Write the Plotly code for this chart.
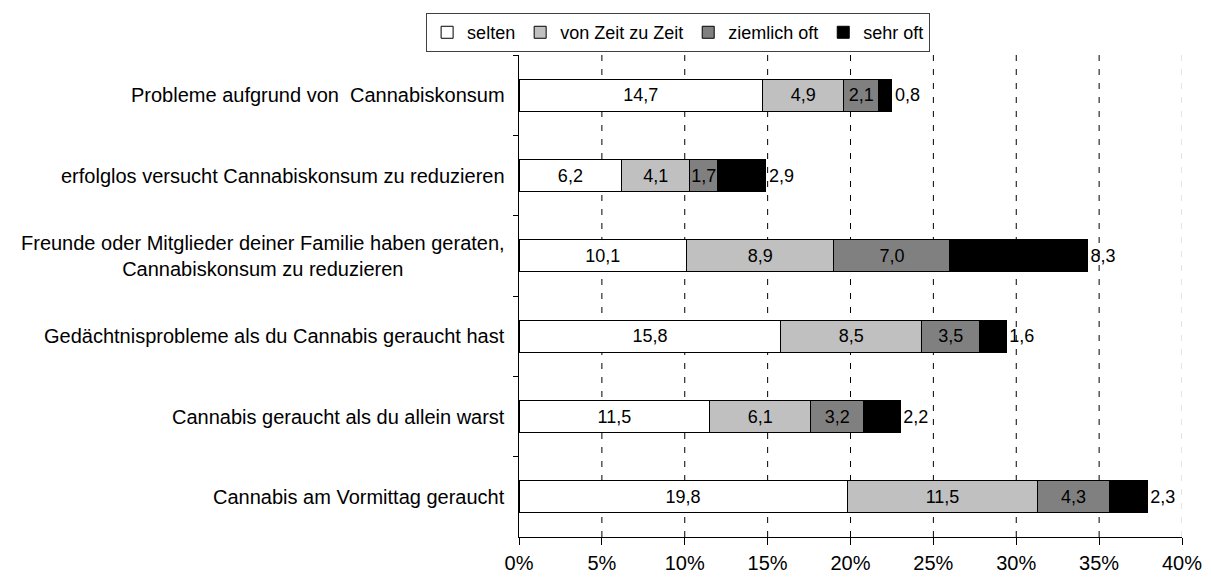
import plotly.graph_objects as go

# Survey items (top to bottom)
categories = [
    "Probleme aufgrund von  Cannabiskonsum",
    "erfolglos versucht Cannabiskonsum zu reduzieren",
    "Freunde oder Mitglieder deiner Familie haben geraten,<br>Cannabiskonsum zu reduzieren",
    "Gedächtnisprobleme als du Cannabis geraucht hast",
    "Cannabis geraucht als du allein warst",
    "Cannabis am Vormittag geraucht",
]

# Share of respondents (%) per frequency
selten = [14.7, 6.2, 10.1, 15.8, 11.5, 19.8]
von_zeit_zu_zeit = [4.9, 4.1, 8.9, 8.5, 6.1, 11.5]
ziemlich_oft = [2.1, 1.7, 7.0, 3.5, 3.2, 4.3]
sehr_oft = [0.8, 2.9, 8.3, 1.6, 2.2, 2.3]

series_names = ["selten", "von Zeit zu Zeit", "ziemlich oft", "sehr oft"]
series_values = [selten, von_zeit_zu_zeit, ziemlich_oft, sehr_oft]
series_colors = ["#FFFFFF", "#C0C0C0", "#808080", "#000000"]

x_ticks = [0, 5, 10, 15, 20, 25, 30, 35, 40]
x_tick_labels = ["0%", "5%", "10%", "15%", "20%", "25%", "30%", "35%", "40%"]

FONT = "Liberation Sans, Arial, sans-serif"
FS_BAR = 18
FS_CAT = 20
FS_TICK = 20
FS_LEG = 18

fig = go.Figure()
for i, (name, vals, col) in enumerate(zip(series_names, series_values, series_colors)):
    last = i == len(series_names) - 1
    fig.add_trace(go.Bar(
        y=categories,
        x=vals,
        name=name,
        orientation="h",
        width=0.4,
        marker=dict(color=col, line=dict(color="#000000", width=1)),
        texttemplate="%{x:.1f}",
        textposition="outside" if last else "inside",
        insidetextanchor="middle",
        textangle=0,
        constraintext="none",
        cliponaxis=False,
        textfont=dict(family=FONT, size=FS_BAR, color="#000000"),
        insidetextfont=dict(family=FONT, size=FS_BAR, color="#000000"),
        outsidetextfont=dict(family=FONT, size=FS_BAR, color="#000000"),
        hoverinfo="skip",
    ))

# Dashed vertical grid lines (the right-most one lighter)
shapes = []
for t in x_ticks[1:]:
    shapes.append(dict(
        type="line", xref="x", yref="paper", x0=t, x1=t, y0=0, y1=1,
        line=dict(color="#C8C8C8" if t == x_ticks[-1] else "#000000",
                  width=1, dash="6px,8px"),
        layer="below",
    ))

# Category labels, right aligned against the axis, lines centred
annotations = []
for c in categories:
    annotations.append(dict(
        x=0, xref="paper", xanchor="right", xshift=-12,
        y=c, yref="y", yanchor="middle",
        text=c, showarrow=False, align="center",
        font=dict(family=FONT, size=FS_CAT, color="#000000"),
    ))

fig.update_layout(
    barmode="stack",
    width=1211, height=579,
    margin=dict(l=519, r=29, t=55, b=42, autoexpand=False),
    paper_bgcolor="#FFFFFF",
    plot_bgcolor="#FFFFFF",
    separators=",.",
    font=dict(family=FONT, size=FS_BAR, color="#000000"),
    shapes=shapes,
    annotations=annotations,
    showlegend=True,
    legend=dict(
        orientation="h",
        x=0.24, xanchor="center",
        y=1.087, yanchor="top",
        bordercolor="#404040", borderwidth=1,
        bgcolor="#FFFFFF",
        font=dict(family=FONT, size=FS_LEG, color="#000000"),
        itemwidth=30,
        traceorder="normal",
    ),
    xaxis=dict(
        range=[0, 40],
        automargin=False,
        tickmode="array", tickvals=x_ticks, ticktext=x_tick_labels,
        showgrid=False, zeroline=False,
        showline=True, linecolor="#000000", linewidth=1,
        ticks="outside", ticklen=7, tickcolor="#000000",
        ticklabelstandoff=1,
        tickfont=dict(family=FONT, size=FS_TICK, color="#000000"),
    ),
    yaxis=dict(
        type="category",
        automargin=False,
        categoryorder="array", categoryarray=categories,
        range=[5.5, -0.5],
        showgrid=False, zeroline=False,
        showline=True, linecolor="#000000", linewidth=1,
        ticks="outside", ticklen=5, tickcolor="#000000",
        tickson="boundaries",
        showticklabels=False,
    ),
)

fig.write_html("out.html")
